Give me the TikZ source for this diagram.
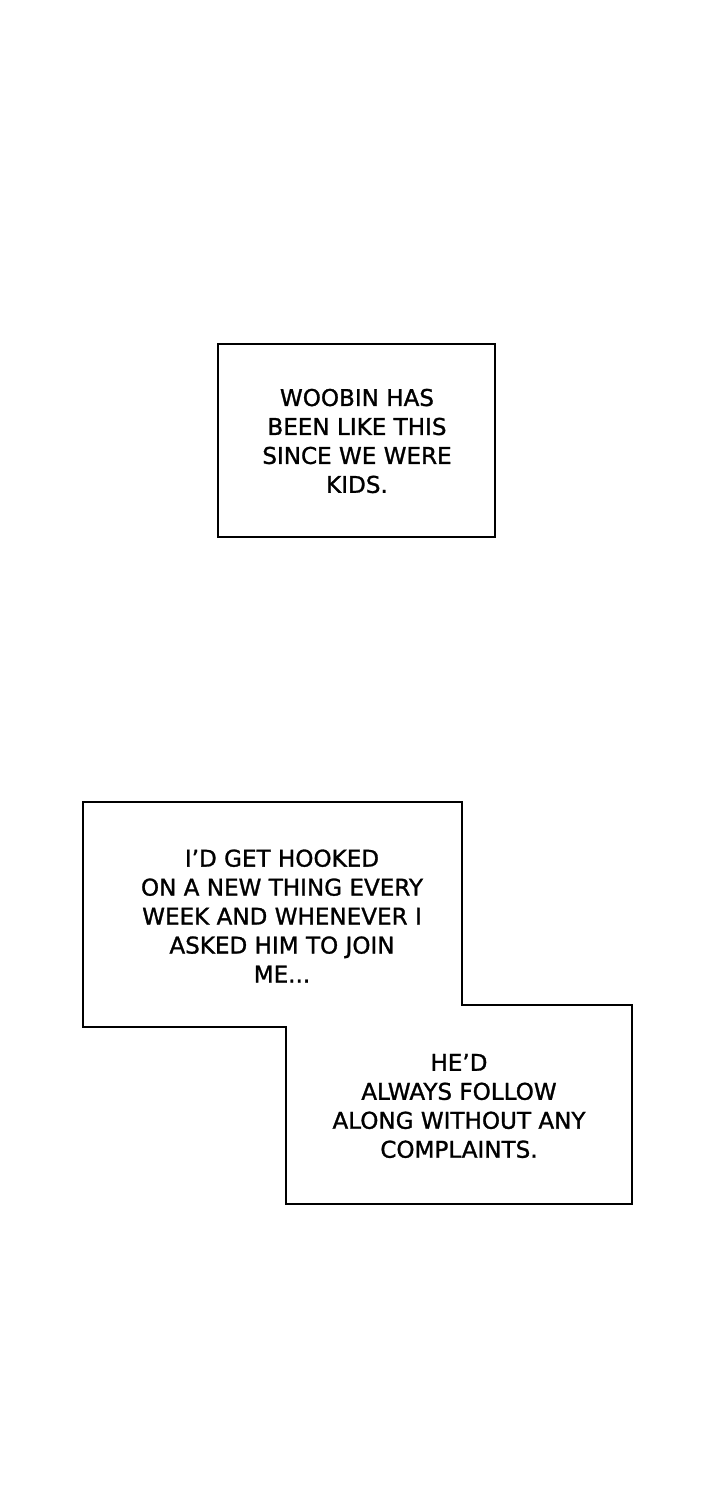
\documentclass[tikz,border=0pt]{standalone}
\usepackage{fontspec}
\setmainfont{DejaVu Sans}
\newfontfamily\capfont[FakeBold=1.2]{DejaVu Sans}
\usetikzlibrary{positioning}

\begin{document}
\begin{tikzpicture}[
				x=0.025cm, y=-0.025cm,
				caption/.style={align=center, font=\capfont\fontsize{16.4}{20.6}\selectfont, inner sep=0pt},
				frame/.style={draw, line width=1.1pt}
				]
				\useasboundingbox[fill=white] (0,0) rectangle (720,1500);
				
				% first box
				\draw[frame] (218,344) rectangle (495,537);
				\node[caption] (kids) at (357,441) {WOOBIN HAS\\BEEN LIKE THIS\\SINCE WE WERE\\KIDS.};
				
				% two joined boxes
				\draw[frame] (83,802) -- (462,802) -- (462,1005) -- (632,1005) -- (632,1204)
					-- (286,1204) -- (286,1027) -- (83,1027) -- cycle;
				\node[caption] (hooked) at (282,916) {I’D GET HOOKED\\ON A NEW THING EVERY\\WEEK AND WHENEVER I\\ASKED HIM TO JOIN\\ME...};
				\node[caption] (follow) at (459,1106) {HE’D\\ALWAYS FOLLOW\\ALONG WITHOUT ANY\\COMPLAINTS.};
			\end{tikzpicture}
\end{document}
